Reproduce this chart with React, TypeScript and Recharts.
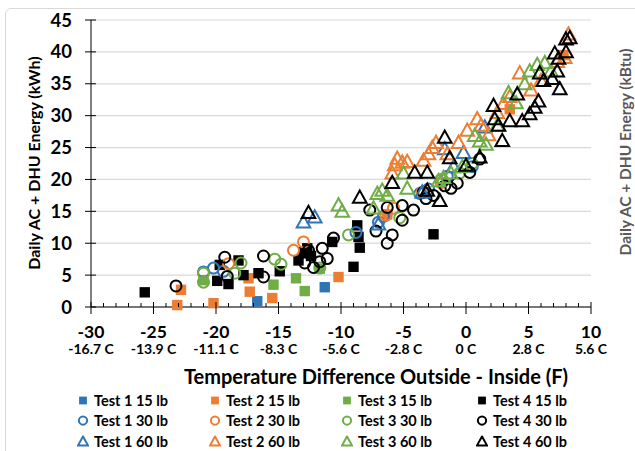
import { ScatterChart, Scatter, XAxis, YAxis, CartesianGrid } from "recharts";

// x tick labels (F on top, C below)
const xTicks = Array.from({ length: 41 }, (_, i) => i - 30);
const fLabels = ["-30", "-25", "-20", "-15", "-10", "-5", "0", "5", "10"];
const cLabels = ["-16.7 C", "-13.9 C", "-11.1 C", "-8.3 C", "-5.6 C", "-2.8 C", "0 C", "2.8 C", "5.6 C"];
const yTicks = [0, 5, 10, 15, 20, 25, 30, 35, 40, 45];
const kbtuTicks = [5, 15, 25, 35, 45];
const kbtuLabels = ["17", "51", "85", "119", "154"];

// [temp diff (F), kWh]
const test1_15 = [[-16.7, 0.9], [-11.3, 3.1]];
const test2_15 = [
  [-23.1, 0.3], [-22.8, 2.7], [-20.2, 0.6], [-17.4, 4.5], [-17.3, 2.4], [-15.5, 1.4],
  [-10.2, 4.7], [-6.3, 14.5], [3.5, 31], [7.8, 39.5],
];
const test3_15 = [[-21, 4.2], [-15.4, 3.5], [-13.6, 4.5], [-12.9, 2.5], [-11.7, 6.0]];
const test4_15 = [
  [-25.7, 2.3], [-19.9, 4.1], [-19.7, 6.6], [-19.0, 3.6], [-18.2, 7.3], [-17.8, 5.0],
  [-16.6, 5.3], [-14.9, 5.6], [-13.4, 7.3], [-13.0, 8.6], [-12.7, 9.2], [-12.4, 8.0],
  [-10.7, 10.2], [-9.0, 6.3], [-8.7, 12.8], [-8.6, 11.0], [-8.5, 9.3], [-2.6, 11.4],
];
const test1_30 = [
  [-21, 5.5], [-20.2, 6.1], [-19.4, 5.6], [-8.8, 11.7], [-7.0, 13.3], [-6.6, 14.2],
  [-3.7, 17.8], [-3.0, 18.5], [-1.5, 20.5], [0.5, 22],
];
const test2_30 = [
  [-19, 6.8], [-13.8, 8.9], [-13, 10.2], [-6.4, 14.4], [-5.8, 15.5], [-3.5, 18], [-2, 19.5],
];
const test3_30 = [
  [-21, 3.9], [-21, 5.3], [-18.5, 5.3], [-18, 6.9], [-15.3, 7.5], [-14.8, 6.7], [-11.7, 6.1],
  [-9.4, 11.3], [-5.3, 14.0], [-2.0, 20], [-0.5, 21], [0.5, 22.5],
];
const test4_30 = [
  [-23.2, 3.3], [-19.3, 7.8], [-19.1, 4.8], [-16.2, 8.0], [-16.2, 4.7], [-12.9, 6.9],
  [-12.6, 8.9], [-12.2, 6.2], [-11.7, 7.1], [-11.5, 9.2], [-11.1, 7.6], [-10.6, 10.8],
  [-7.7, 15.2], [-7.2, 11.9], [-6.3, 10.0], [-5.9, 11.3], [-6.3, 15.6], [-5.1, 15.9],
  [-4.2, 15.2], [-5.1, 13.6], [-3.4, 18.0], [-3.2, 17.0], [-2.6, 17.5], [-1.7, 19.0],
  [-0.7, 19.4], [0.3, 21.1], [1.1, 23.2], [-1.2, 18.6],
];
const test1_60 = [
  [-13, 13.3], [-12.1, 14.1], [-7, 13], [-3.5, 18], [-1.7, 24.8], [-0.2, 24.2], [1.5, 28.2], [-1, 22],
];
const test2_60 = [
  [-5.9, 21], [-5.7, 22.3], [-5.1, 22.7], [-5.5, 23.3], [-4.7, 22.8], [-3.4, 23], [-3, 24],
  [-2.7, 25], [-2.4, 25.8], [-1.5, 24], [-0.6, 25.8], [0.1, 27.7], [0.9, 29.5], [1.2, 28.5],
  [1.8, 27], [2.5, 30.5], [3, 31.9], [3.5, 33], [4.3, 36.7], [5.2, 34], [6, 35.5], [7.3, 38.5],
  [7.9, 39.1], [8.2, 42.8],
];
const test3_60 = [
  [-10.2, 16], [-9.9, 15], [-7.4, 15.5], [-7.1, 17.8], [-6.7, 18.3], [-6.3, 17.5], [-5, 21],
  [-4.7, 18.6], [-2.2, 19.8], [-1.8, 20.3], [-1.2, 21], [-0.3, 22], [0.7, 26.9], [1.1, 26],
  [1.6, 25.5], [2.5, 28.5], [3.4, 33.6], [4, 32], [4.7, 35], [5.1, 37], [5.7, 38], [6.3, 38.3],
  [6.8, 37],
];
const test4_60 = [
  [-12.6, 14.8], [-8.5, 17.2], [-5.9, 19.5], [-4.1, 21.1], [-3.1, 21.1], [-3.1, 18.3],
  [-2.1, 16.7], [-1.7, 26.6], [-1.3, 23.4], [0, 22.2], [1.1, 23.5], [2.2, 31.6], [2.3, 29.5],
  [2.9, 26.1], [2.6, 28.5], [3.5, 29.2], [4.1, 33.4], [4.5, 29.2], [5.1, 30.3], [5.5, 31.3],
  [5.8, 32.3], [5.9, 36.7], [6.2, 35.5], [6.9, 35.8], [7.3, 37], [7.5, 34.2], [7.1, 39.8],
  [7.4, 39], [8, 42], [8.3, 42.2], [8, 40],
];

const BLUE = "#2e75b6";
const ORANGE = "#ed7d31";
const GREEN = "#70ad47";
const BLACK = "#000000";

type Kind = "square" | "circle" | "triangle";

const series: { name: string; data: number[][]; color: string; kind: Kind }[] = [
  { name: "Test 1 15 lb", data: test1_15, color: BLUE, kind: "square" },
  { name: "Test 2 15 lb", data: test2_15, color: ORANGE, kind: "square" },
  { name: "Test 3 15 lb", data: test3_15, color: GREEN, kind: "square" },
  { name: "Test 4 15 lb", data: test4_15, color: BLACK, kind: "square" },
  { name: "Test 1 30 lb", data: test1_30, color: BLUE, kind: "circle" },
  { name: "Test 2 30 lb", data: test2_30, color: ORANGE, kind: "circle" },
  { name: "Test 3 30 lb", data: test3_30, color: GREEN, kind: "circle" },
  { name: "Test 4 30 lb", data: test4_30, color: BLACK, kind: "circle" },
  { name: "Test 1 60 lb", data: test1_60, color: BLUE, kind: "triangle" },
  { name: "Test 2 60 lb", data: test2_60, color: ORANGE, kind: "triangle" },
  { name: "Test 3 60 lb", data: test3_60, color: GREEN, kind: "triangle" },
  { name: "Test 4 60 lb", data: test4_60, color: BLACK, kind: "triangle" },
];

const FONT = "Lato, 'Open Sans', sans-serif";

function Marker({ cx, cy, color, kind, s = 1 }: any) {
  if (kind === "square") {
    const h = 5.2 * s;
    return <rect x={cx - h} y={cy - h} width={2 * h} height={2 * h} fill={color} />;
  }
  if (kind === "circle") {
    return <circle cx={cx} cy={cy} r={5.5 * s} fill="none" stroke={color} strokeWidth={2} />;
  }
  const h = 6.8 * s;
  return (
    <polygon
      points={`${cx},${cy - h} ${cx - h},${cy + h * 0.8} ${cx + h},${cy + h * 0.8}`}
      fill="none"
      stroke={color}
      strokeWidth={2}
      strokeLinejoin="miter"
    />
  );
}

const LeftTick = ({ x, y, payload }: any) => (
  <g>
    <line x1={x - 6} x2={x + 5} y1={y} y2={y} stroke="#000" />
    <text x={x - 19} y={y + 6.5} textAnchor="end" fontSize={18.5} fontWeight={700} fill="#000" fontFamily={FONT}>
      {payload.value}
    </text>
  </g>
);

const RightTick = ({ x, y, payload }: any) => (
  <text x={x + 1} y={y + 6} textAnchor="start" fontSize={16.5} fontWeight={700} fill="#595959" fontFamily={FONT}>
    {kbtuLabels[kbtuTicks.indexOf(payload.value)]}
  </text>
);

const BottomTick = ({ x, y, payload }: any) => {
  const v = payload.value;
  const major = v % 5 === 0;
  const i = fLabels.indexOf(String(v));
  return (
    <g>
      <line x1={x} x2={x} y1={major ? y - 5 : y - 4} y2={major ? y + 7 : y} stroke="#000" />
      {major && (
        <>
          <text x={x} y={y + 31} textAnchor="middle" fontSize={17.5} fontWeight={700} fill="#000" fontFamily={FONT}>
            {fLabels[i]}
          </text>
          <text x={x} y={y + 47} textAnchor="middle" fontSize={14} fontWeight={700} fill="#000" fontFamily={FONT}>
            {cLabels[i]}
          </text>
        </>
      )}
    </g>
  );
};

const legendCols = [77, 209, 341, 476];
const legendRows = [400, 420, 441];

export default function App() {
  return (
    <div style={{ position: "absolute", left: 0, top: 0, width: 635, height: 451, overflow: "hidden", background: "#fff", fontFamily: FONT }}>
      <div
        style={{
          position: "absolute", left: 5, top: 8, width: 660, height: 470,
          border: "1px solid #d9d9d9", borderRadius: 6,
        }}
      />
      <div style={{ position: "absolute", left: 0, top: 0 }}>
        <ScatterChart width={635} height={451} margin={{ top: 20, right: 0, bottom: 84, left: 11 }}>
          <CartesianGrid yAxisId="left" vertical={false} stroke="#d9d9d9" strokeWidth={1.2} />
          <XAxis
            type="number"
            dataKey="x"
            domain={[-30, 10]}
            ticks={xTicks}
            interval={0}
            height={60}
            tickSize={0}
            tickMargin={0}
            tickLine={false}
            axisLine={{ stroke: "#000" }}
            tick={<BottomTick />}
          />
          <YAxis
            yAxisId="left"
            type="number"
            dataKey="y"
            domain={[0, 45]}
            ticks={yTicks}
            width={80}
            tickSize={0}
            tickMargin={0}
            tickLine={false}
            axisLine={{ stroke: "#000" }}
            tick={<LeftTick />}
          />
          <YAxis
            yAxisId="right"
            orientation="right"
            type="number"
            domain={[0, 45]}
            ticks={kbtuTicks}
            width={44}
            tickSize={0}
            tickMargin={0}
            tickLine={false}
            axisLine={false}
            tick={<RightTick />}
          />
          {series.map((s) => (
            <Scatter
              key={s.name}
              yAxisId="left"
              name={s.name}
              data={s.data.map(([x, y]) => ({ x, y }))}
              isAnimationActive={false}
              shape={(p: any) => <Marker cx={p.cx} cy={p.cy} color={s.color} kind={s.kind} />}
            />
          ))}
        </ScatterChart>
      </div>
      <div
        style={{
          position: "absolute", left: 33, top: 163, transform: "translate(-50%, -50%) rotate(-90deg)",
          whiteSpace: "nowrap", fontSize: 16, fontWeight: 700, color: "#000",
        }}
      >
        Daily AC + DHU Energy (kWh)
      </div>
      <div
        style={{
          position: "absolute", left: 625, top: 152, transform: "translate(-50%, -50%) rotate(-90deg)",
          whiteSpace: "nowrap", fontSize: 15.5, fontWeight: 700, color: "#595959", lineHeight: "18px",
        }}
      >
        Daily AC + DHU Energy (kBtu)
      </div>
      <div
        style={{
          position: "absolute", left: 376, top: 376, transform: "translate(-50%, -50%)",
          whiteSpace: "nowrap", fontSize: 20, fontWeight: 700, color: "#000",
        }}
      >
        Temperature Difference Outside - Inside (F)
      </div>
      {series.map((s, i) => (
        <div
          key={s.name}
          style={{
            position: "absolute", left: legendCols[i % 4], top: legendRows[Math.floor(i / 4)],
            transform: "translateY(-50%)", display: "flex", alignItems: "center",
            whiteSpace: "nowrap", fontSize: 14.5, fontWeight: 700, color: "#000",
          }}
        >
          <svg width={12} height={12} style={{ marginRight: 5 }}>
            <Marker cx={6} cy={6} color={s.color} kind={s.kind} s={0.75} />
          </svg>
          {s.name}
        </div>
      ))}
    </div>
  );
}
